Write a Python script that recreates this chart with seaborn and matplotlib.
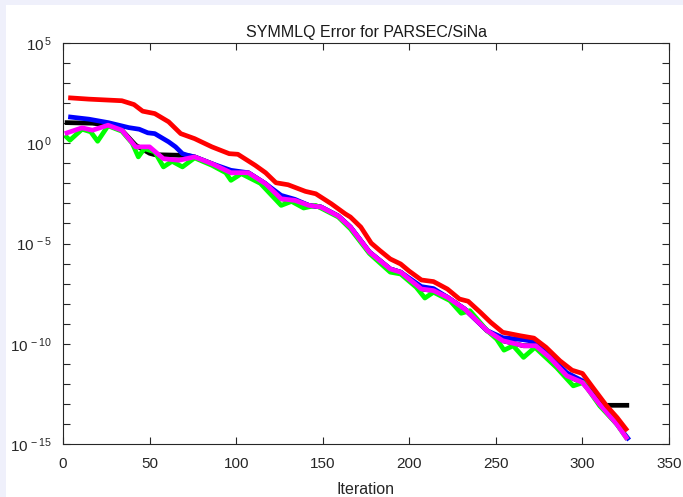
import numpy as np
import pandas as pd
import matplotlib
matplotlib.use("Agg")
import matplotlib.pyplot as plt
import matplotlib.ticker as mticker
from matplotlib.patches import Rectangle
import seaborn as sns

# ---- data (iteration, log10 error) ----
red_it = [3, 15, 34, 41, 46, 53, 61, 68, 76, 86, 96, 101, 111, 117, 123, 130, 140, 146, 155, 163, 166,
          172, 178, 183, 189, 195, 200, 207, 214, 222, 229, 234, 241, 247, 254, 264, 272, 279, 287, 294,
          300, 306, 314, 320, 326]
red_lg = [2.27, 2.2, 2.12, 1.93, 1.6, 1.48, 1.07, 0.48, 0.23, -0.18, -0.52, -0.55, -1.1, -1.47, -1.97,
          -2.07, -2.4, -2.52, -3.02, -3.52, -3.68, -4.18, -4.98, -5.35, -5.77, -6.02, -6.38, -6.82, -6.9,
          -7.27, -7.77, -7.88, -8.43, -8.93, -9.43, -9.6, -9.72, -10.18, -10.85, -11.32, -11.48, -12.18,
          -13.1, -13.68, -14.35]

mag_it = [1, 11, 17, 26, 34, 42, 50, 58, 67, 76, 86, 97, 107, 117, 126, 134, 142, 149, 159, 166, 177,
          189, 195, 207, 214, 222, 232, 245, 254, 266, 273, 281, 291, 300, 310, 320, 326]
mag_lg = [0.48, 0.77, 0.65, 0.9, 0.65, -0.18, -0.18, -0.77, -0.85, -0.68, -1.02, -1.47, -1.47, -2.02,
          -2.77, -2.85, -3.1, -3.18, -3.63, -4.18, -5.43, -6.27, -6.43, -7.27, -7.35, -7.68, -8.27,
          -9.35, -9.85, -10.1, -10.1, -10.68, -11.6, -11.93, -13.02, -14.02, -14.77]

blue_it = [3, 15, 26, 38, 44, 49, 53, 61, 65, 69, 72, 76, 86, 97, 107, 117, 126, 134, 142, 149, 159,
           166, 177, 189, 195, 207, 214, 222, 232, 245, 254, 266, 273, 281, 291, 300, 310, 320, 327]
blue_lg = [1.32, 1.2, 1.03, 0.78, 0.7, 0.52, 0.48, 0.07, -0.18, -0.52, -0.6, -0.68, -1.02, -1.35, -1.47,
           -2.02, -2.6, -2.8, -3.1, -3.18, -3.63, -4.18, -5.43, -6.27, -6.43, -7.15, -7.25, -7.68, -8.27,
           -9.35, -9.7, -9.8, -9.9, -10.6, -11.45, -11.85, -13.02, -14.02, -14.8]

green_it = [1, 4, 11, 16, 20, 26, 34, 40, 43.5, 47, 53, 58, 63, 69, 76, 86, 94, 97, 103, 114, 126, 132,
            139, 146, 159, 166, 177, 189, 195, 204, 209, 214, 223.5, 230, 235, 245, 250.5, 254.7, 260,
            266, 272.6, 285, 294.7, 300.5, 310, 320, 326]
green_lg = [0.4, 0.15, 0.7, 0.57, 0.1, 0.87, 0.6, 0.0, -0.68, -0.27, -0.43, -1.18, -0.9, -1.18, -0.73,
            -1.1, -1.47, -1.85, -1.52, -2.0, -3.1, -2.9, -3.23, -3.1, -3.68, -4.27, -5.5, -6.43, -6.52,
            -7.18, -7.72, -7.43, -7.85, -8.48, -8.35, -9.35, -9.77, -10.32, -10.1, -10.68, -10.18, -11.18,
            -12.1, -11.93, -13.1, -14.02, -14.77]

black_it = [1, 17, 26, 34, 42, 50, 53, 68, 72, 76, 86, 97, 107, 117, 126, 134, 142, 149, 159, 166, 177,
            189, 195, 207, 214, 222, 232, 245, 254, 266, 273, 281, 291, 300, 307, 313, 327]
black_lg = [1.03, 1.0, 0.9, 0.65, -0.1, -0.5, -0.57, -0.6, -0.62, -0.68, -1.02, -1.47, -1.47, -2.02,
            -2.77, -2.85, -3.1, -3.18, -3.63, -4.18, -5.43, -6.27, -6.43, -7.27, -7.35, -7.68, -8.27,
            -9.35, -9.85, -10.1, -10.1, -10.68, -11.6, -11.93, -12.6, -13.07, -13.07]

series = [("black", black_it, black_lg), ("blue", blue_it, blue_lg), ("green", green_it, green_lg),
          ("magenta", mag_it, mag_lg), ("red", red_it, red_lg)]
colors = {"black": "#000000", "blue": "#0000ff", "green": "#00ff00", "magenta": "#ff00ff", "red": "#ff0000"}

rows = []
for name, it, lg in series:
    for k, (a, b) in enumerate(zip(it, lg)):
        rows.append({"series": name, "iter": a, "err": 10.0 ** b, "order": k})
df = pd.DataFrame(rows)

sns.set_theme(style="white")
plt.rcParams["font.family"] = ["Liberation Sans", "DejaVu Sans"]
plt.rcParams["mathtext.fontset"] = "custom"
plt.rcParams["mathtext.rm"] = "Liberation Sans"
plt.rcParams["mathtext.it"] = "Liberation Sans"
plt.rcParams["mathtext.bf"] = "Liberation Sans"
plt.rcParams["mathtext.default"] = "regular"

fig = plt.figure(figsize=(6.83, 4.97), dpi=100)
fig.patch.set_facecolor("#eff0fb")
fig.patches.append(Rectangle((6 / 683, 0), 1, 492 / 497, transform=fig.transFigure,
                             facecolor="white", edgecolor="none", zorder=-10))
ax = fig.add_axes([63 / 683, 53 / 497, 606 / 683, 401 / 497])
ax.set_facecolor("white")

sns.lineplot(data=df, x="iter", y="err", hue="series", units="series", estimator=None, sort=False,
             hue_order=["black", "blue", "green", "magenta", "red"], palette=colors,
             linewidth=3.4, legend=False, ax=ax)
for ln in ax.get_lines():
    ln.set_solid_joinstyle("round")
    ln.set_solid_capstyle("butt")

ax.set_yscale("log")
ax.set_xlim(0, 350)
ax.set_ylim(1e-15, 1e5)
ax.set_xticks(np.arange(0, 351, 50))
ax.yaxis.set_major_locator(mticker.LogLocator(base=10, numticks=30))
ax.yaxis.set_minor_locator(mticker.NullLocator())

def yfmt(v, pos):
    e = int(round(np.log10(v)))
    return r"$10^{\,%d}$" % e if e % 5 == 0 else ""

ax.yaxis.set_major_formatter(mticker.FuncFormatter(yfmt))
ax.tick_params(direction="in", top=True, right=True, left=True, bottom=True, length=5, width=0.8,
               colors="#262626", labelsize=11)
ax.tick_params(axis="x", pad=9)
ax.tick_params(axis="y", pad=8)
for s in ax.spines.values():
    s.set_color("#262626")
    s.set_linewidth(0.8)

ax.set_xlabel("Iteration", fontsize=11.5, color="#262626", labelpad=8)
ax.set_ylabel("")
ax.set_title("SYMMLQ Error for PARSEC/SiNa", fontsize=11.5, color="#1a1a1a", pad=4)

fig.savefig("out.png", dpi=100, facecolor=fig.get_facecolor())
